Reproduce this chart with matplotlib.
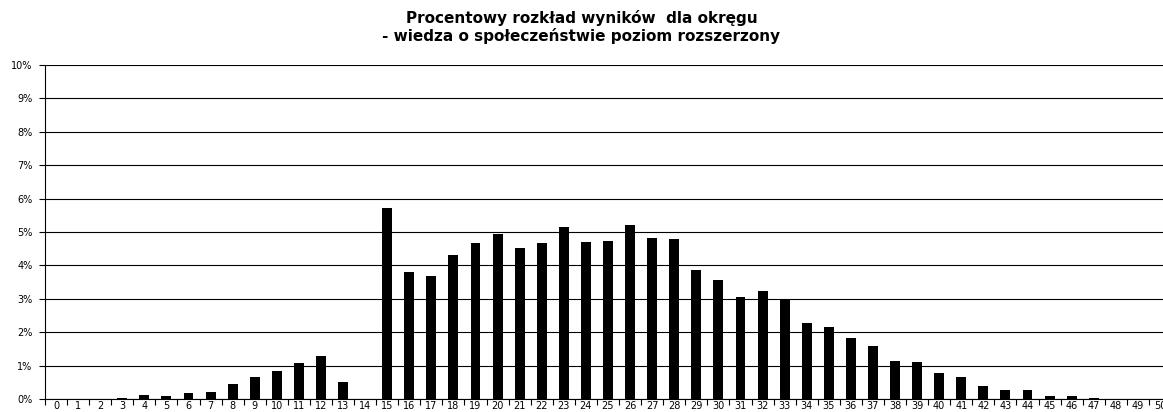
import numpy as np
import matplotlib.pyplot as plt
from matplotlib.ticker import FuncFormatter

# wyniki 0..50 punktów
punkty = list(range(0, 51))
procent = [0, 0, 0, 0.02, 0.12, 0.10, 0.18, 0.21, 0.45, 0.65,
           0.85, 1.07, 1.29, 0.52, 0, 5.72, 3.80, 3.67, 4.30, 4.67,
           4.93, 4.51, 4.67, 5.16, 4.70, 4.72, 5.21, 4.83, 4.80, 3.87,
           3.56, 3.04, 3.22, 2.98, 2.29, 2.15, 1.84, 1.59, 1.14, 1.10,
           0.78, 0.65, 0.38, 0.28, 0.26, 0.08, 0.09, 0.03, 0, 0, 0]
tytul = 'Procentowy rozkład wyników  dla okręgu\n- wiedza o społeczeństwie poziom rozszerzony'

plt.rcParams['font.family'] = ['DejaVu Sans']

fig = plt.figure(figsize=(11.63, 4.12), dpi=100)
ax = fig.add_axes([45 / 1163, 13 / 412, 1126 / 1163, 334 / 412])

ax.bar(punkty, procent, width=0.45, color='black', zorder=3)

ax.set_xlim(-0.5, 50.5)
ax.set_ylim(0, 10)
ax.set_yticks(np.arange(0, 11, 1))
ax.yaxis.set_major_formatter(FuncFormatter(lambda v, p: f'{int(v)}%'))
ax.yaxis.grid(True, color='black', linewidth=0.8, zorder=0)

ax.set_xticks(punkty)
ax.set_xticklabels([str(p) for p in punkty])
ax.set_xticks(np.arange(-0.5, 51, 1), minor=True)
ax.tick_params(axis='x', which='major', length=0, labelsize=7, pad=1.5)
ax.tick_params(axis='x', which='minor', length=4, width=0.8, direction='out')
ax.tick_params(axis='y', length=4, width=0.8, labelsize=7, pad=5)

for s in ['top', 'right']:
    ax.spines[s].set_visible(False)
ax.spines['left'].set_linewidth(0.8)
ax.spines['bottom'].set_linewidth(0.8)

fig.text(0.5, 1 - 27 / 412, tytul, ha='center', va='center',
         fontsize=11, fontweight='bold', linespacing=1.15)

fig.savefig('out.png', dpi=100)
